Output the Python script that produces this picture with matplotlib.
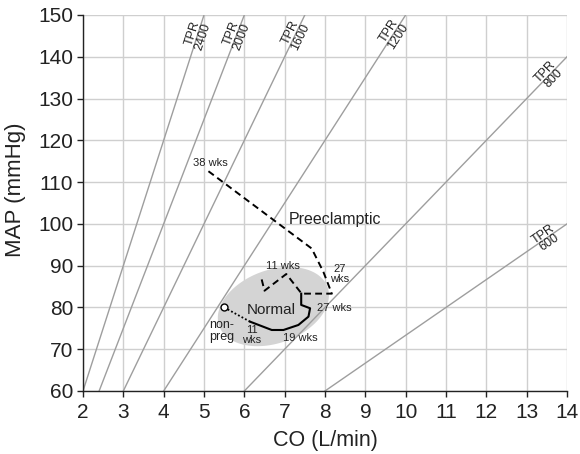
import numpy as np
import matplotlib
matplotlib.use('Agg')
import matplotlib.pyplot as plt

plt.rcParams['font.family'] = ['Liberation Sans', 'DejaVu Sans']

# TPR isolines: CO at MAP=60 and end point at the plot edge
tpr_values = [2400, 2000, 1600, 1200, 800, 600]
tpr_co_start = [2.0, 2.4, 3.0, 4.0, 6.0, 8.0]
tpr_co_end = [5.0, 6.0, 7.5, 10.0, 14.0, 14.0]
tpr_map_end = [150, 150, 150, 150, 140, 100]
tpr_label_map = [145.2, 145.2, 145.2, 145.4, 135.6, 96.5]

# normal pregnancy path
nonpreg = (5.5, 80.0)
normal_dot_co = [5.5, 6.14]
normal_dot_map = [80.0, 76.6]
normal_co = [6.14, 6.68, 6.97, 7.34, 7.59, 7.63, 7.41, 7.41]
normal_map = [76.6, 74.6, 74.6, 75.8, 77.8, 79.8, 80.6, 83.3]

# preeclamptic path
pre_co = [6.43, 6.50, 7.04, 7.42, 8.17, 7.96, 7.67, 5.11]
pre_map = [86.7, 84.0, 88.0, 83.3, 83.3, 88.5, 94.1, 112.6]

# normal range ellipse: centre and two conjugate semi-diameters (data units)
ell_center = (6.72, 80.2)
ell_u = (1.34, 4.75)
ell_v = (-0.32, 8.2)

fig = plt.figure(figsize=(5.8, 4.54), dpi=100)
ax = fig.add_axes([0.1431, 0.1388, 0.8345, 0.8282])

ax.set_xlim(2, 14)
ax.set_ylim(60, 150)
ax.set_xticks(range(2, 15))
ax.set_yticks(range(60, 151, 10))
ax.grid(True, color='#cfcfcf', lw=1.0)
ax.set_axisbelow(True)
for s in ['top', 'right']:
    ax.spines[s].set_visible(False)
for s in ['left', 'bottom']:
    ax.spines[s].set_color('#222222')
    ax.spines[s].set_linewidth(1.0)
ax.tick_params(labelsize=15, length=4.5, width=1.0, colors='#222222')
ax.tick_params(axis='x', pad=4)
ax.tick_params(axis='y', pad=2.5)
ax.set_xlabel('CO (L/min)', fontsize=15.5, color='#222222', labelpad=6)
ax.set_ylabel('MAP (mmHg)', fontsize=16, color='#222222')
ax.yaxis.set_label_coords(-0.118, 0.535)

# ellipse
t = np.linspace(0, 2 * np.pi, 200)
ex = ell_center[0] + ell_u[0] * np.cos(t) + ell_v[0] * np.sin(t)
ey = ell_center[1] + ell_u[1] * np.cos(t) + ell_v[1] * np.sin(t)
ax.fill(ex, ey, color='#d4d4d4', lw=0, zorder=1.5)

# TPR lines
fig.canvas.draw()
for tpr, x0, x1, y1, ly in zip(tpr_values, tpr_co_start, tpr_co_end, tpr_map_end, tpr_label_map):
    ax.plot([x0, x1], [60, y1], color='#9e9e9e', lw=1.0, zorder=2)
    p0 = ax.transData.transform((x0, 60))
    p1 = ax.transData.transform((x1, y1))
    ang = np.degrees(np.arctan2(p1[1] - p0[1], p1[0] - p0[0]))
    lx = x0 + (ly - 60) / (y1 - 60) * (x1 - x0)
    ax.text(lx, ly, f'TPR\n{tpr}', rotation=ang, rotation_mode='anchor',
            ha='center', va='center', fontsize=9, color='#222222',
            linespacing=0.85, zorder=3)

# paths
ax.plot(normal_dot_co, normal_dot_map, color='black', lw=1.3, ls=(0, (1, 1.2)), zorder=4)
ax.plot(normal_co, normal_map, color='black', lw=1.5, zorder=4)
ax.plot(pre_co, pre_map, color='black', lw=1.4, ls=(0, (3.5, 2.2)), zorder=4)
ax.plot(*nonpreg, marker='o', ms=5, mfc='white', mec='black', mew=1.0, zorder=5)

# annotations
txt = dict(color='#222222', ha='center', va='center', zorder=6)
ax.text(5.15, 114.5, '38 wks', fontsize=8, **txt)
ax.text(7.09, 101, 'Preeclamptic', fontsize=11.5, color='#222222', ha='left', va='center', zorder=6)
ax.text(6.96, 89.9, '11 wks', fontsize=8, **txt)
ax.text(8.37, 88.0, '27\nwks', fontsize=8, linespacing=0.95, **txt)
ax.text(8.24, 79.8, '27 wks', fontsize=8, **txt)
ax.text(6.66, 79.4, 'Normal', fontsize=11, **txt)
ax.text(5.44, 74.4, 'non-\npreg', fontsize=9, linespacing=0.95, **txt)
ax.text(6.18, 73.4, '11\nwks', fontsize=8, linespacing=0.95, **txt)
ax.text(7.38, 72.6, '19 wks', fontsize=8, **txt)

fig.savefig('out.png', dpi=100)
